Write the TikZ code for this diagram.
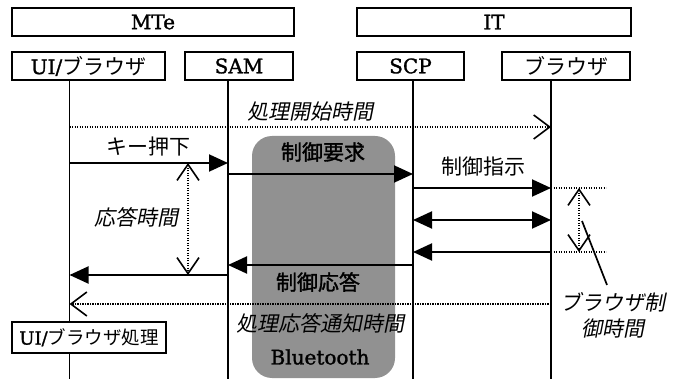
\documentclass[tikz,border=0pt]{standalone}
\usepackage{fontspec}
\setmainfont{DejaVu Serif}
\newfontfamily\lat{DejaVu Serif}[FakeBold=1.4]
\newfontfamily\jp{Noto Sans CJK JP}
\newfontfamily\jpit{Noto Sans CJK JP}[FakeSlant=0.2]
\newfontfamily\jpbf{Noto Sans CJK JP}[FakeBold=1.5]
\usetikzlibrary{arrows.meta,calc}

\begin{document}
\begin{tikzpicture}[x=1pt,y=-1pt,
  box/.style={draw, line width=1.8pt, fill=white, inner sep=0pt,
    font=\lat\fontsize{20}{22}\selectfont},
  kana/.style={font=\jp\fontsize{21}{22}\selectfont},
  life/.style={line width=1.8pt},
  msg/.style={line width=1.9pt, -{Triangle[length=19pt,width=17pt]}},
  twomsg/.style={line width=1.9pt,
    {Triangle[length=19pt,width=17pt]}-{Triangle[length=19pt,width=17pt]}},
  dots/.style={line width=1.1pt, dash pattern=on 1.2pt off 1.3pt},
  tline/.style={dots, -{Straight Barb[length=16pt,width=24pt,line width=1.6pt]}},
  tspan/.style={dots, {Straight Barb[length=16pt,width=22pt,line width=1.6pt]}-{Straight Barb[length=16pt,width=22pt,line width=1.6pt]}},
  lbl/.style={inner sep=0pt, font=\jp\fontsize{21}{22}\selectfont},
  ilbl/.style={inner sep=0pt, font=\jpit\fontsize{21}{22}\selectfont},
  blbl/.style={inner sep=0pt, font=\jpbf\fontsize{21}{22}\selectfont},
]
\useasboundingbox (0,0) rectangle (685,379);

% Bluetooth link region
\node[fill=black!43, rounded corners=20pt, minimum width=143pt, minimum height=242pt,
  inner sep=0pt] (bt) at (323.5,257) {};

% group headers
\node[box, minimum width=282pt, minimum height=28pt] (mte) at (153,22) {MTe};
\node[box, minimum width=274pt, minimum height=28pt] (it)  at (494,22) {IT};

% participants
\node[box, minimum width=153pt, minimum height=28pt] (uibox) at (88.5,66)
  {UI/{\jp\fontsize{21}{22}\selectfont ブラウザ}};
\node[box, minimum width=108pt, minimum height=28pt] (sambox) at (239,66) {SAM};
\node[box, minimum width=107pt, minimum height=28pt] (scpbox) at (410.5,66) {SCP};
\node[box, minimum width=128pt, minimum height=28pt, kana] (brbox) at (566,66) {ブラウザ};

% lifeline tops and bottom
\coordinate (ui)  at (69.5,80);
\coordinate (sam) at (228,80);
\coordinate (scp) at (413,80);
\coordinate (br)  at (551,80);
\coordinate (bot) at (0,379);

\draw[life] (ui)  -- (ui |- bot);
\draw[life] (sam) -- (sam |- bot);
\draw[life] (scp) -- (scp |- bot);
\draw[life] (br)  -- (br |- bot);

% message rows
\coordinate (r0) at (0,127);
\coordinate (r1) at (0,163);
\coordinate (r2) at (0,174);
\coordinate (r3) at (0,188);
\coordinate (r4) at (0,220);
\coordinate (r5) at (0,252);
\coordinate (r6) at (0,265);
\coordinate (r7) at (0,275);
\coordinate (r8) at (0,304);

% processing start time
\draw[tline] (ui |- r0) -- (br |- r0);
\node[ilbl] (t0) at (310,112) {処理開始時間};

% messages
\draw[msg] (ui |- r1) -- (sam |- r1);
\node[lbl] (key) at (148,147) {キー押下};
\draw[msg] (sam |- r2) -- (scp |- r2);
\node[blbl] (req) at (323,152) {制御要求};
\draw[msg] (scp |- r3) -- (br |- r3);
\node[lbl] (ins) at (483,167) {制御指示};
\draw[twomsg] (scp |- r4) -- (br |- r4);
\draw[msg] (br |- r5) -- (scp |- r5);
\draw[msg] (scp |- r6) -- (sam |- r6);
\draw[msg] (sam |- r7) -- (ui |- r7);
\node[blbl] (rsp) at (318,282) {制御応答};

% response time
\coordinate (m1) at (188,0);
\draw[tspan] (m1 |- r1) -- (m1 |- r7);
\node[ilbl] (t1) at (136,217) {応答時間};

% browser control time
\coordinate (m2) at (579,0);
\coordinate (e2) at (606,0);
\draw[dots] (br |- r3) -- (e2 |- r3);
\draw[dots] (br |- r5) -- (e2 |- r5);
\draw[tspan] (m2 |- r3) -- (m2 |- r5);
\node[ilbl, align=center, font=\jpit\fontsize{21}{26}\selectfont] (t2) at (613,315)
  {ブラウザ制\\御時間};
\coordinate (ld) at (582,221);
\draw[line width=1.7pt] (ld) -- ($(t2.north)+(-6,-7)$);

% response notification time
\draw[tline] (br |- r8) -- (ui |- r8);
\node[ilbl] (t3) at (320,323) {処理応答通知時間};
\node[inner sep=0pt, font=\lat\fontsize{20}{22}\selectfont] (bluet) at (320,357) {Bluetooth};

% UI processing
\node[box, minimum width=154pt, minimum height=31pt, font=\lat\fontsize{18}{20}\selectfont]
  (uiproc) at (89,337.5) {UI/{\jp\fontsize{18.5}{20}\selectfont ブラウザ処理}};
\end{tikzpicture}
\end{document}
